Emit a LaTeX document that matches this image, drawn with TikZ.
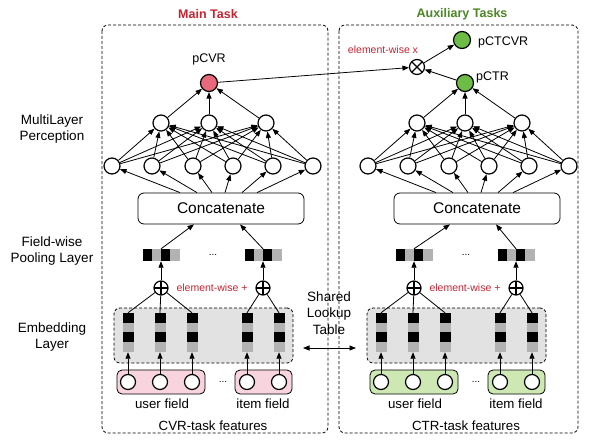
\documentclass[tikz,border=0pt]{standalone}
\usepackage{fontspec}
\setmainfont{Liberation Sans}
\usetikzlibrary{arrows.meta,calc}
\definecolor{taskred}{RGB}{200,35,50}
\definecolor{taskgreen}{RGB}{75,135,35}
\definecolor{cvrnode}{RGB}{232,104,124}
\definecolor{ctrnode}{RGB}{108,188,70}
\definecolor{cvrbox}{RGB}{248,212,222}
\definecolor{ctrbox}{RGB}{206,232,180}
\definecolor{embfill}{RGB}{226,226,226}
\definecolor{cellgray}{RGB}{178,178,178}
\tikzset{
  neuron/.style={circle,draw,line width=1.2pt,minimum size=16pt,inner sep=0pt,fill=white},
  arr/.style={-{Triangle[length=6.5pt,width=5pt]},line width=0.8pt},
  catbox/.style={draw,rounded corners=6pt,line width=0.8pt,minimum width=166pt,minimum height=31pt,inner sep=0pt,font=\fontsize{15.5}{18}\selectfont},
  outerbox/.style={draw,dashed,dash pattern=on 3pt off 2pt,rounded corners=6pt,line width=0.8pt},
  embbox/.style={draw,dashed,dash pattern=on 3pt off 2pt,rounded corners=6pt,line width=0.8pt,fill=embfill,inner sep=0pt},
  featbox/.style={draw,rounded corners=5pt,line width=0.8pt,inner sep=0pt,minimum height=24pt},
  inneuron/.style={circle,draw,line width=1.2pt,minimum size=15pt,inner sep=0pt,fill=white},
  plusnode/.style={circle,draw,line width=1.2pt,minimum size=14pt,inner sep=0pt,
    path picture={\draw[line width=1.2pt] (path picture bounding box.north) -- (path picture bounding box.south)
      (path picture bounding box.west) -- (path picture bounding box.east);}},
  timesnode/.style={circle,draw,line width=1.2pt,minimum size=15pt,inner sep=0pt,
    path picture={\draw[line width=1.2pt] (path picture bounding box.north west) -- (path picture bounding box.south east)
      (path picture bounding box.south west) -- (path picture bounding box.north east);}},
  lbl/.style={font=\fontsize{13.5}{16}\selectfont,align=center,inner sep=0pt},
  small/.style={font=\fontsize{12.5}{15}\selectfont,inner sep=0pt},
  ewlbl/.style={font=\fontsize{10.5}{12}\selectfont,text=taskred,inner sep=0pt},
  title/.style={font=\bfseries\fontsize{12.5}{15}\selectfont,inner sep=0pt},
  cell/.style={minimum width=11pt,minimum height=39pt,inner sep=0pt}
}
\newcommand\pooledvec[2]{%
  \fill[black] ({#2-18.5},249) rectangle ({#2-9.25},261);
  \fill[cellgray] ({#2-9.25},249) rectangle (#2,261);
  \fill[black] (#2,249) rectangle ({#2+9.25},261);
  \fill[cellgray] ({#2+9.25},249) rectangle ({#2+18.5},261);
  \node[minimum width=37pt,minimum height=12pt,inner sep=0pt] (#1) at (#2,255) {};
}
\newcommand\embcol[2]{%
  \fill[black] ({#2-5.5},313) rectangle ({#2+5.5},323);
  \fill[cellgray] ({#2-5.5},323) rectangle ({#2+5.5},332);
  \fill[black] ({#2-5.5},332) rectangle ({#2+5.5},342);
  \fill[cellgray] ({#2-5.5},342) rectangle ({#2+5.5},352);
  \node[cell] (#1) at (#2,332.5) {};
}
% #1 prefix, #2 upper shift, #3 lower shift, #4 top fill, #5 feature fill, #6 features label
\newcommand\drawside[6]{%
  \begin{scope}[xshift=#2]
    \node[neuron,fill=#4,minimum size=17pt] (#1-top) at (209,83) {};
    \foreach \x [count=\i] in {161,209,266} \node[neuron] (#1-h2-\i) at (\x,123) {};
    \foreach \x [count=\i] in {112,152,193,233,273,313} \node[neuron] (#1-h1-\i) at (\x,166) {};
    \node[catbox] (#1-cat) at (221,208.5) {Concatenate};
  \end{scope}
  \begin{scope}[xshift=#3]
    \pooledvec{#1-p1}{161}
    \pooledvec{#1-p2}{263}
    \node[inner sep=0pt] (#1-pdots) at (213,255) {...};
    \node[plusnode] (#1-s1) at (161,288) {};
    \node[plusnode] (#1-s2) at (263,288) {};
    \node[ewlbl] (#1-ew) at (212,288) {element-wise +};
    \node[embbox,minimum width=179pt,minimum height=55pt] (#1-emb) at (203.5,335.5) {};
    \foreach \x [count=\i] in {128,160,192,247,279} {\embcol{#1-e\i}{\x}}
    \node[featbox,fill=#5,minimum width=88pt] (#1-fu) at (161,382) {};
    \node[featbox,fill=#5,minimum width=57pt] (#1-fi) at (263.5,382) {};
    \foreach \x [count=\i] in {128,160,192,247,279} \node[inneuron] (#1-i\i) at (\x,382) {};
    \node[inner sep=0pt] (#1-fdots) at (223,382) {...};
    \node[small,font=\fontsize{13.3}{15}\selectfont] (#1-ul) at (162,404) {user field};
    \node[small,font=\fontsize{13.3}{15}\selectfont] (#1-il) at (263,404) {item field};
    \node[small,font=\fontsize{13.3}{15}\selectfont] (#1-tl) at (213,426) {#6};
  \end{scope}
  \foreach \i in {1,...,5} \draw[arr] (#1-i\i) -- (#1-e\i);
  \foreach \i in {1,2,3} \draw[line width=0.8pt] (#1-s1) -- (#1-e\i.north);
  \foreach \i in {4,5} \draw[line width=0.8pt] (#1-s2) -- (#1-e\i.north);
  \draw[arr] (#1-s1) -- (#1-p1);
  \draw[arr] (#1-s2) -- (#1-p2);
  \draw[arr] (#1-p1.north) -- ($(#1-cat.south)+(-27,0)$);
  \draw[arr] (#1-p2.north) -- ($(#1-cat.south)+(19,0)$);
  \foreach \d [count=\i] in {-41,-24,-9,4,21,36} \draw[arr] ($(#1-cat.north)+(\d,0)$) -- (#1-h1-\i);
  \foreach \i in {1,...,6} \foreach \j in {1,2,3} \draw[arr] (#1-h1-\i) -- (#1-h2-\j);
  \foreach \j in {1,2,3} \draw[arr] (#1-h2-\j) -- (#1-top);
}
\begin{document}
\begin{tikzpicture}[x=1pt,y=-1pt]
  \useasboundingbox[fill=white] (0,0) rectangle (593,441);
  \draw[outerbox] (102,25) rectangle (328,433);
  \draw[outerbox] (339,25) rectangle (578,433);
  \node[title,text=taskred] (t1) at (208,14) {Main Task};
  \node[title,text=taskgreen] (t2) at (462,14) {Auxiliary Tasks};
  \node[lbl] (l1) at (52,129) {MultiLayer\\Perception};
  \node[lbl] (l2) at (52,251) {Field-wise\\Pooling Layer};
  \node[lbl] (l3) at (52,337) {Embedding\\Layer};
  \drawside{L}{0}{0}{cvrnode}{cvrbox}{CVR-task features}
  \drawside{R}{256}{253}{ctrnode}{ctrbox}{CTR-task features}
  \node[small] (pcvr) at (209,59) {pCVR};
  \node[small,anchor=west] (pctr) at (476,77) {pCTR};
  \node[neuron,fill=ctrnode,minimum size=17pt] (ctcvr) at (462,40) {};
  \node[small,anchor=west] (pctcvrl) at (478,42) {pCTCVR};
  \node[timesnode] (otimes) at (417,67) {};
  \node[ewlbl] (ewx) at (383,50) {element-wise x};
  \draw[arr] (L-top) -- (otimes);
  \draw[arr] (R-top) -- (otimes);
  \draw[arr] (otimes) -- (ctcvr);
  \node[lbl,font=\fontsize{13.5}{16.5}\selectfont] (shared) at (329,313) {Shared\\Lookup\\Table};
  \coordinate (shl) at (303,348);
  \coordinate (shr) at (356,348);
  \draw[{Triangle[length=6.5pt,width=5pt]}-{Triangle[length=6.5pt,width=5pt]},line width=0.8pt] (shl) -- (shr);
\end{tikzpicture}
\end{document}
